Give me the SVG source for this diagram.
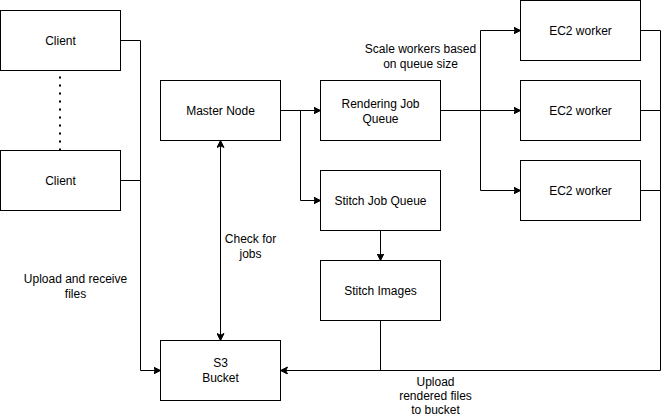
<svg xmlns="http://www.w3.org/2000/svg" width="669" height="417" viewBox="0 0 669 417">
<style>
.box{fill:#fff;stroke:#000;stroke-width:1}
.ln{fill:none;stroke:#000;stroke-width:1}
.dot{fill:none;stroke:#000;stroke-width:2;stroke-dasharray:2,6}
text{font-family:"Liberation Sans",Arial,sans-serif;font-size:12px;fill:#000;text-anchor:middle}
</style>
<defs>
<marker id="arr" markerWidth="10" markerHeight="10" refX="7" refY="3.5" orient="auto" markerUnits="userSpaceOnUse">
<path d="M0,0 L7,3.5 L0,7 L1.75,3.5 Z" fill="#000" stroke="#000" stroke-width="1"/>
</marker>
<marker id="arrs" markerWidth="10" markerHeight="10" refX="0" refY="3.5" orient="auto" markerUnits="userSpaceOnUse">
<path d="M7,0 L0,3.5 L7,7 L5.25,3.5 Z" fill="#000" stroke="#000" stroke-width="1"/>
</marker>
</defs>
<rect width="669" height="417" fill="#fff"/>
<g transform="translate(0.5,0.5)">
<g id="connectors">
<path class="dot" d="M59.5,76 L59.5,150"/>
<path class="ln" d="M120,40 L140,40 L140,370 L160,370" marker-end="url(#arr)"/>
<path class="ln" d="M120,180 L140,180"/>
<path class="ln" d="M220,340 L220,140" marker-start="url(#arrs)" marker-end="url(#arr)"/>
<path class="ln" d="M280,110 L320,110" marker-end="url(#arr)"/>
<path class="ln" d="M300,110 L300,200 L320,200" marker-end="url(#arr)"/>
<path class="ln" d="M380,230 L380,260" marker-end="url(#arr)"/>
<path class="ln" d="M440,110 L520,110" marker-end="url(#arr)"/>
<path class="ln" d="M480,110 L480,30 L520,30" marker-end="url(#arr)"/>
<path class="ln" d="M480,110 L480,190 L520,190" marker-end="url(#arr)"/>
<path class="ln" d="M640,30 L660,30 L660,370 L280,370" marker-end="url(#arr)"/>
<path class="ln" d="M640,110 L660,110"/>
<path class="ln" d="M640,190 L660,190"/>
<path class="ln" d="M380,320 L380,370"/>
</g>
<g id="client1"><rect class="box" x="0" y="10" width="120" height="60"/><text x="60" y="44">Client</text></g>
<g id="client2"><rect class="box" x="0" y="150" width="120" height="60"/><text x="60" y="184">Client</text></g>
<g id="master"><rect class="box" x="160" y="80" width="120" height="60"/><text x="220" y="114">Master Node</text></g>
<g id="renderq"><rect class="box" x="320" y="80" width="120" height="60"/><text x="380" y="107">Rendering Job</text><text x="380" y="122">Queue</text></g>
<g id="stitchq"><rect class="box" x="320" y="170" width="120" height="60"/><text x="380" y="204">Stitch Job Queue</text></g>
<g id="stitchimg"><rect class="box" x="320" y="260" width="120" height="60"/><text x="380" y="294">Stitch Images</text></g>
<g id="s3"><rect class="box" x="160" y="340" width="120" height="60"/><text x="220" y="366">S3</text><text x="220" y="381">Bucket</text></g>
<g id="ec2a"><rect class="box" x="520" y="0" width="120" height="60"/><text x="580" y="34">EC2 worker</text></g>
<g id="ec2b"><rect class="box" x="520" y="80" width="120" height="60"/><text x="580" y="114">EC2 worker</text></g>
<g id="ec2c"><rect class="box" x="520" y="160" width="120" height="60"/><text x="580" y="194">EC2 worker</text></g>
<g id="labels">
<text x="420" y="52">Scale workers based</text><text x="420" y="67">on queue size</text>
<text x="250" y="242">Check for</text><text x="250" y="257">jobs</text>
<text x="75" y="282">Upload and receive</text><text x="75" y="297">files</text>
<text x="435" y="385">Upload</text><text x="435" y="399">rendered files</text><text x="435" y="413">to bucket</text>
</g>
</g>
</svg>
